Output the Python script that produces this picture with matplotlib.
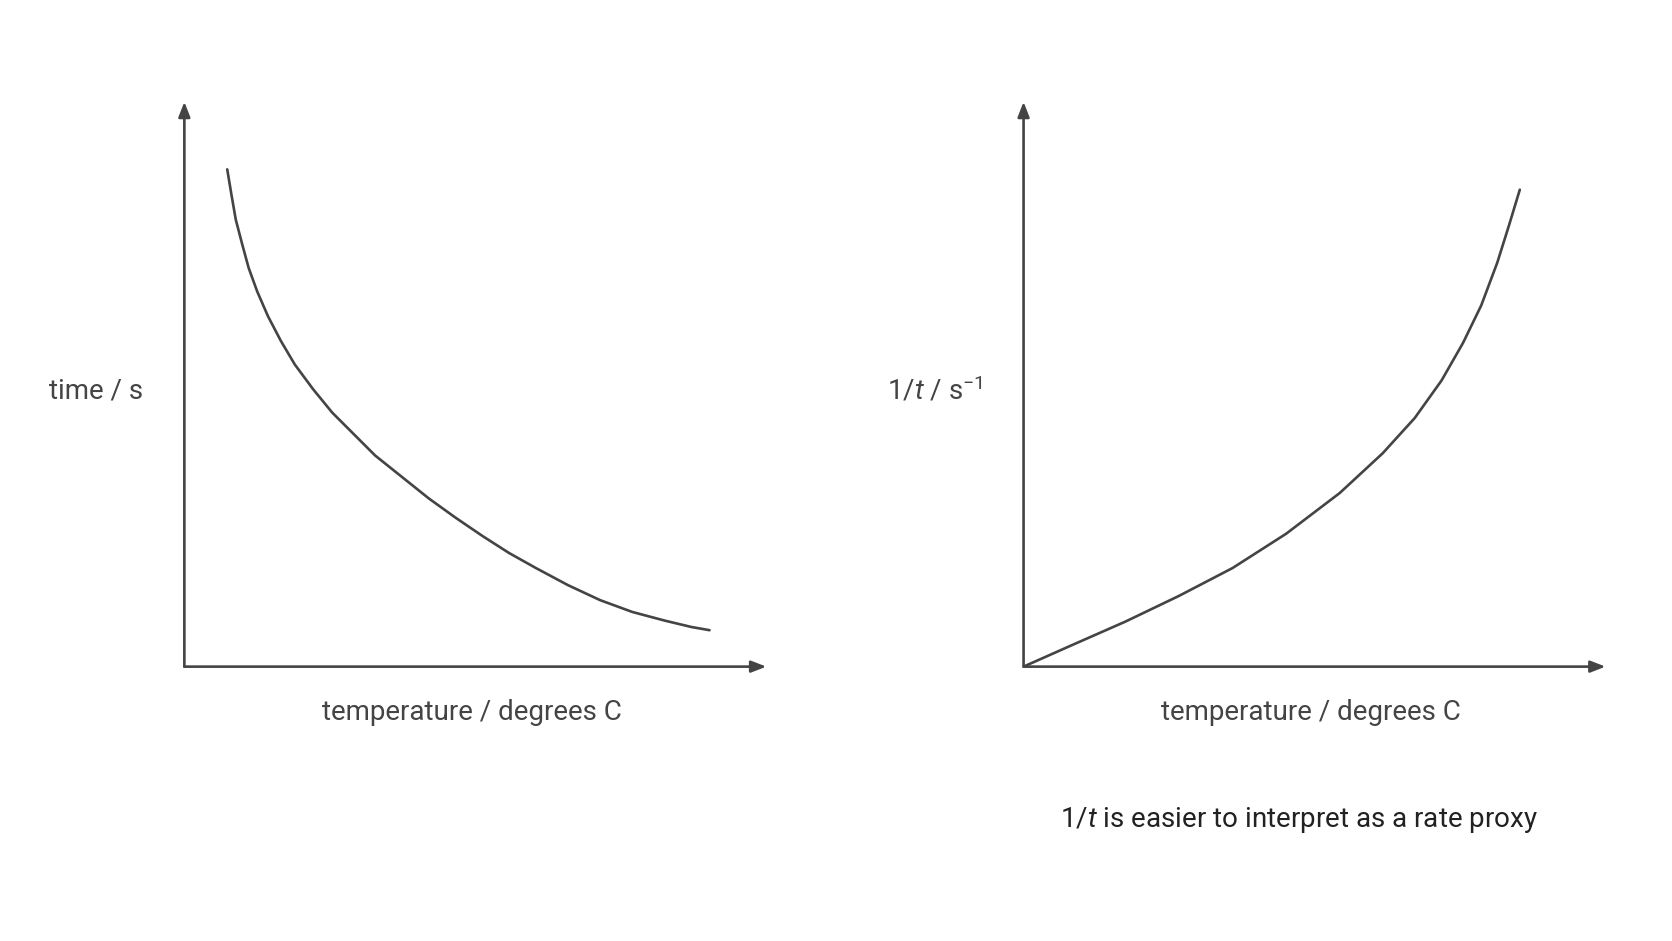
import matplotlib
matplotlib.use("Agg")
import matplotlib.pyplot as plt

plt.rcParams['font.family'] = ['Roboto', 'DejaVu Sans']
plt.rcParams['mathtext.fontset'] = 'custom'
plt.rcParams['mathtext.rm'] = 'Roboto'
plt.rcParams['mathtext.it'] = 'Roboto:italic'

W, H = 1560, 878
# curve points, in reference pixels
left_px = [212, 216, 220, 226, 232, 240, 250, 262, 275, 292, 310, 330, 350, 375, 400, 425, 450, 475, 500, 530, 560, 590, 620, 645, 662]
left_py = [158, 182, 205, 228, 250, 272, 295, 318, 340, 363, 385, 405, 425, 445, 465, 483, 500, 516, 530, 546, 560, 571, 579, 585, 588]
right_px = [955, 1000, 1050, 1100, 1150, 1200, 1250, 1290, 1320, 1345, 1365, 1382, 1397, 1408, 1418]
right_py = [622, 602, 580, 556, 530, 498, 460, 423, 390, 355, 320, 285, 245, 210, 177]

col = '#444444'
fig = plt.figure(figsize=(16.72, 9.41), dpi=100)

def make(ox, pxs, pys, ylabel, ylx):
    ax = fig.add_axes([ox / W, (H - 622) / H, 543 / W, 527 / H])
    ax.set_xlim(ox, ox + 543); ax.set_ylim(622, 95); ax.axis('off')
    ax.plot(pxs, pys, color=col, lw=1.9, solid_capstyle='round', solid_joinstyle='round')
    for xy in [(1, 0), (0, 1)]:
        ax.annotate('', xy=xy, xytext=(0, 0), xycoords='axes fraction',
                    arrowprops=dict(arrowstyle='-|>,head_length=0.9,head_width=0.35', color=col, lw=1.9,
                                    shrinkA=0, shrinkB=0))
    fig.text((ox + 268) / W, (H - 665) / H, 'temperature / degrees C', ha='center', va='center',
             fontsize=20, color=col)
    fig.text(ylx / W, (H - 365) / H, ylabel, ha='center', va='center', fontsize=20, color=col)
    return ax

make(172, left_px, left_py, 'time / s', 90)
make(955, right_px, right_py, r'1/$t$ / s$^{−1}$', 872)
fig.text(1212 / W, (H - 765) / H, r'1/$t$ is easier to interpret as a rate proxy', ha='center', va='center',
         fontsize=20, color='#222222')
fig.savefig('out.png', dpi=100, facecolor='white')
